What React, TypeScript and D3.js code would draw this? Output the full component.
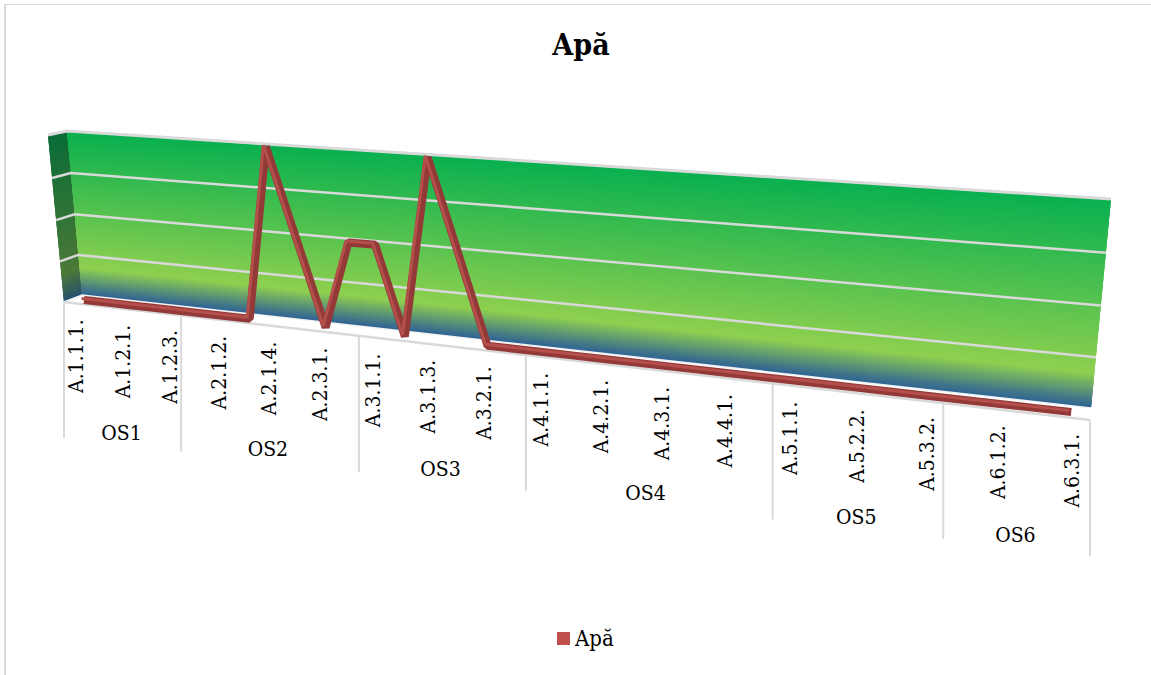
import React from "react";
import * as d3 from "d3";

const WIDTH = 1151;
const HEIGHT = 675;
const FONT = "'DejaVu Serif Condensed', 'DejaVu Serif', serif";

const seriesName = "Apă";
const yTicks = [0, 1, 2, 3, 4];

// one value per category, most of the plan's activities are at zero
const values = [0, 0, 0, 0, 0, 0, 0, 0, 4, 2, 0, 2, 2, 0, 4, 2, 0, 0, 0, 0, 0, 0, 0, 0, 0, 0, 0, 0, 0, 0, 0, 0, 0, 0, 0];

const tickLabels = [
  "A.1.1.1.", "A.1.2.1.", "A.1.2.3.", "A.2.1.2.", "A.2.1.4.", "A.2.3.1.",
  "A.3.1.1.", "A.3.1.3.", "A.3.2.1.", "A.4.1.1.", "A.4.2.1.", "A.4.3.1.",
  "A.4.4.1.", "A.5.1.1.", "A.5.2.2.", "A.5.3.2.", "A.6.1.2.", "A.6.3.1.",
];
const groupNames = ["OS1", "OS2", "OS3", "OS4", "OS5", "OS6"];
const groupStarts = [0, 5, 12, 18, 26, 31, 35];

type Pt = [number, number];

// unit square -> quad (bl, br, tr, tl), this is what gives the 3D look
function quadProjection(bl: Pt, br: Pt, tr: Pt, tl: Pt) {
  const dx1 = br[0] - tr[0], dx2 = tl[0] - tr[0], sx = bl[0] - br[0] + tr[0] - tl[0];
  const dy1 = br[1] - tr[1], dy2 = tl[1] - tr[1], sy = bl[1] - br[1] + tr[1] - tl[1];
  const det = dx1 * dy2 - dx2 * dy1;
  const g = (sx * dy2 - dx2 * sy) / det;
  const h = (dx1 * sy - sx * dy1) / det;
  const a = br[0] - bl[0] + g * br[0], b = tl[0] - bl[0] + h * tl[0], c = bl[0];
  const d = br[1] - bl[1] + g * br[1], e = tl[1] - bl[1] + h * tl[1], f = bl[1];
  return (u: number, v: number): Pt => {
    const w = g * u + h * v + 1;
    return [(a * u + b * v + c) / w, (d * u + e * v + f) / w];
  };
}

const wall = quadProjection([82, 295], [1091, 408], [1111, 199], [67, 131]);
const side = quadProjection([64, 302], [82, 295], [67, 131], [48, 135]);
const linePlane = quadProjection([72.75, 298.7], [1090, 414.2], [1109, 202], [58.75, 133]);
const frontEdge = quadProjection([64, 302], [1090, 420], [1109, 208], [48, 136]);

const x = d3.scaleLinear().domain([0, values.length]).range([0, 1]);
const y = d3.scaleLinear().domain([0, 4]).range([0, 1]);

const wallColor = d3
  .scaleLinear<string>()
  .domain([0, 0.035, 0.17, 1])
  .range(["#2f6496", "#427689", "#8fd050", "#09b050"]);
const sideColor = d3
  .scaleLinear<string>()
  .domain([0, 0.035, 0.17, 1])
  .range(["#245070", "#2f5a62", "#4d7a38", "#0a6d38"]);

const STRIP_COUNT = 300;
const STRIPS = d3.range(0, STRIP_COUNT).map((i) => i / STRIP_COUNT);
const polyLine = d3.line();

function strip(proj: (u: number, v: number) => Pt, v: number) {
  const v2 = Math.min(1, v + 1 / STRIP_COUNT + 0.006);
  return polyLine([proj(0, v), proj(1, v), proj(1, v2), proj(0, v2)]) + "Z";
}

export default function App() {
  const linePoints = values.map((d, i) => linePlane(x(i + 0.5), y(d)));
  const linePath = polyLine(linePoints) as string;
  const grey = "#d9d9d9";
  const labelY = (i: number) => frontEdge(x(i), 0);

  return (
    <svg
      width={WIDTH}
      height={HEIGHT}
      style={{ position: "absolute", left: 0, top: 0, background: "#fff" }}
    >
      <line x1={5} x2={5} y1={4} y2={HEIGHT} stroke={grey} strokeWidth={2} />
      <line x1={4} x2={WIDTH} y1={4.5} y2={4.5} stroke={grey} strokeWidth={1} />

      <text x={581} y={55} textAnchor="middle" fontFamily={FONT} fontWeight="bold" fontSize={30} fill="#000">
        {seriesName}
      </text>

      {STRIPS.map((v) => (
        <path key={"s" + v} d={strip(side, v)} fill={sideColor(v)} />
      ))}
      {STRIPS.map((v) => (
        <path key={"w" + v} d={strip(wall, v)} fill={wallColor(v)} />
      ))}

      {/* gridlines run over both walls */}
      {yTicks.slice(1).map((t) => (
        <path
          key={t}
          d={polyLine([side(0, y(t)), wall(0, y(t)), wall(1, y(t))]) as string}
          fill="none"
          stroke={grey}
          strokeWidth={t === 4 ? 3 : 2.5}
        />
      ))}

      {/* floor edges */}
      <path
        d={polyLine([side(0, 0), wall(0, 0), wall(1, 0)]) as string}
        fill="none"
        stroke="#f2f2f2"
        strokeWidth={1.5}
      />
      <path
        d={polyLine([frontEdge(0, 0), frontEdge(1, 0)]) as string}
        fill="none"
        stroke={grey}
        strokeWidth={2.5}
      />

      {/* the tape: dark body and a lighter face on its up-left edge */}
      <path d={linePath} fill="none" stroke="#933a38" strokeWidth={8} strokeLinejoin="bevel" />
      <path
        d={linePath}
        transform="translate(-2.4,-1.5)"
        fill="none"
        stroke="#b44f4c"
        strokeWidth={3}
        strokeLinejoin="bevel"
      />

      {groupStarts.map((s) => {
        const [px, py] = labelY(s);
        return <line key={s} x1={px} x2={px} y1={py} y2={py + 136} stroke={grey} strokeWidth={2} />;
      })}

      {tickLabels.map((label, k) => {
        const [px, py] = labelY(k * 2 + 0.5);
        return (
          <text
            key={label}
            transform={`translate(${px + 8},${py + 16}) rotate(-90)`}
            textAnchor="end"
            fontFamily={FONT}
            fontSize={21}
            fill="#000"
          >
            {label}
          </text>
        );
      })}

      {groupNames.map((name, k) => {
        const [px, py] = labelY((groupStarts[k] + groupStarts[k + 1]) / 2);
        return (
          <text key={name} x={px} y={py + 131} textAnchor="middle" fontFamily={FONT} fontSize={21} fill="#000">
            {name}
          </text>
        );
      })}

      <rect x={557} y={632} width={13} height={13} fill="#c0504d" />
      <text x={575} y={646} fontFamily={FONT} fontSize={22} fill="#000">
        {seriesName}
      </text>
    </svg>
  );
}
